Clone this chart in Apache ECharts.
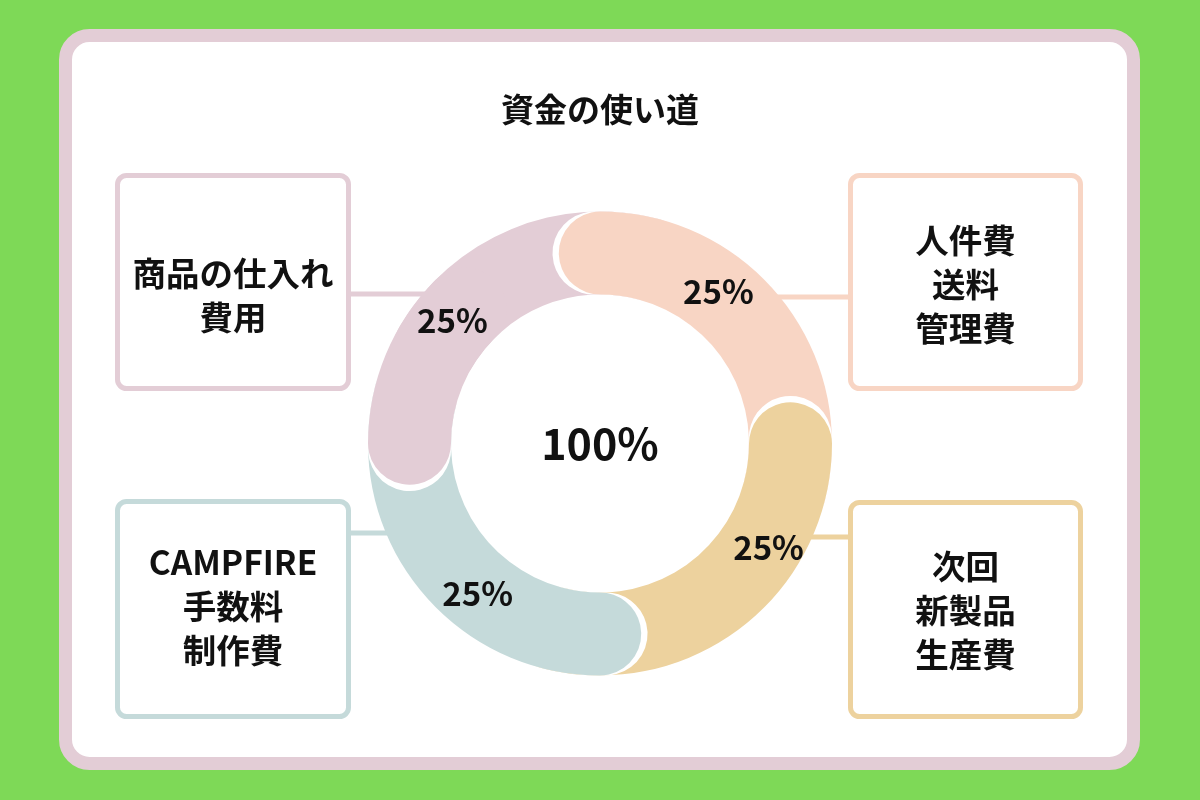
<!DOCTYPE html>
<html>
<head>
<meta charset="utf-8">
<script src="https://cdn.jsdelivr.net/npm/echarts@6/dist/echarts.min.js"></script>
<style>
html,body{margin:0;padding:0;background:#7ED957;}
#chart{width:1200px;height:800px;}
</style>
</head>
<body>
<div id="chart"></div>
<script>
// ---------- data ----------
const chartTitle = '資金の使い道';
const totalLabel = '100%';
// clockwise from the top
const categories = ['人件費\n送料\n管理費', '次回\n新製品\n生産費', 'CAMPFIRE\n手数料\n制作費', '商品の仕入れ\n費用'];
const shares = [25, 25, 25, 25];
const colors = ['#F8D5C4', '#EDD29E', '#C5DADA', '#E3CDD6'];

// ---------- layout / style ----------
const FONT = '"Noto Sans CJK JP", "Noto Sans", sans-serif';
const CENTER = [600, 443.5];
const RADII = [149, 232];
const START = 102.5;     // angle of the first segment's rounded head
const CAP = 42;          // corner radius -> round caps
const EXT = 40;          // degrees a segment tucks under the next one
const GAP = 1.9;         // white outline ahead of each head (degrees)
const HALO = 45;         // length of the white outline piece (degrees)
const HEAD = 70;         // last segment: head drawn on top
const OVER = 40;         // overlap of last segment's head and tail
const LABEL_START = 98;
const labelOffsets = [[2, 2], [14, -12], [-6, -5], [7, -7]];
// boxes [x0, y0, x1, y1] outer edges, text centre y, connector [y, xFromBox, xToRing]
const boxes = [
  {rect: [848, 173, 1083, 391], ty: 284, line: [297, 848, 760]},
  {rect: [848, 500, 1083, 719], ty: 610, line: [537, 848, 790]},
  {rect: [115, 499, 351, 719], ty: 606.5, line: [533, 351, 410]},
  {rect: [115, 173, 351, 391], ty: 295, line: [294, 351, 440]}
];

const total = shares.reduce((a, b) => a + b, 0);
const degOf = v => v / total * 360;
const valOf = d => d / 360 * total;

function arc(startAngle, spanDeg, color, z) {
  return {
    type: 'pie', z: z, center: CENTER, radius: RADII,
    startAngle: startAngle, clockwise: true, silent: true, animation: false,
    label: {show: false}, labelLine: {show: false}, emphasis: {disabled: true},
    itemStyle: {borderRadius: CAP, borderWidth: 0},
    data: [
      {value: valOf(spanDeg), itemStyle: {color: color}},
      {value: total - valOf(spanDeg), itemStyle: {color: 'rgba(0,0,0,0)'}}
    ]
  };
}

const n = shares.length;
let acc = 0;
const starts = shares.map(s => { const a = START - degOf(acc); acc += s; return a; });
const series = [];
let z = 10;
// tail of the last segment sits underneath everything
const lastSpan = degOf(shares[n - 1]);
series.push(arc(starts[n - 1] - (HEAD - OVER), lastSpan + EXT - (HEAD - OVER), colors[n - 1], z++));
for (let i = 0; i < n; i++) {
  const span = (i === n - 1) ? HEAD : degOf(shares[i]) + EXT;
  series.push(arc(starts[i] + GAP, HALO + GAP, '#ffffff', z++));
  series.push(arc(starts[i], span, colors[i], z++));
}
// percentage labels
series.push({
  type: 'pie', z: 40, center: CENTER, radius: RADII, startAngle: LABEL_START, clockwise: true,
  silent: true, animation: false, labelLine: {show: false}, emphasis: {disabled: true},
  itemStyle: {color: 'rgba(0,0,0,0)'},
  label: {show: true, position: 'inside', formatter: p => p.value + '%',
          fontFamily: FONT, fontSize: 33, fontWeight: 'bold', color: '#111'},
  data: shares.map((v, i) => ({value: v, name: categories[i], label: {offset: labelOffsets[i]}}))
});

const graphics = [];
// panel
graphics.push({type: 'rect', z: 0, shape: {x: 65.5, y: 35.5, width: 1068, height: 728, r: 24},
  style: {fill: '#ffffff', stroke: '#E3CDD6', lineWidth: 13}});
boxes.forEach((b, i) => {
  const [x0, y0, x1, y1] = b.rect;
  graphics.push({type: 'line', z: 1, shape: {x1: b.line[1], y1: b.line[0], x2: b.line[2], y2: b.line[0]},
    style: {stroke: colors[i], lineWidth: 5}});
  graphics.push({type: 'rect', z: 2, shape: {x: x0 + 2.5, y: y0 + 2.5, width: x1 - x0 - 5, height: y1 - y0 - 5, r: 9},
    style: {fill: '#ffffff', stroke: colors[i], lineWidth: 5}});
  graphics.push({type: 'text', z: 3, x: (x0 + x1) / 2, y: b.ty,
    style: {text: categories[i], fill: '#111', fontFamily: FONT, fontSize: 33.5, fontWeight: 'bold',
            lineHeight: 44, align: 'center', verticalAlign: 'middle'}});
});
graphics.push({type: 'text', z: 50, x: CENTER[0], y: CENTER[1],
  style: {text: totalLabel, fill: '#111', fontFamily: FONT, fontSize: 43, fontWeight: 'bold',
          align: 'center', verticalAlign: 'middle'}});

const chart = echarts.init(document.getElementById('chart'), null, {renderer: 'canvas'});
chart.setOption({
  backgroundColor: '#7ED957',
  animation: false,
  title: {text: chartTitle, left: 'center', top: 93, padding: 0,
          textStyle: {fontFamily: FONT, fontSize: 33, fontWeight: 'bold', color: '#111'}},
  graphic: {elements: graphics},
  series: series
});
</script>
</body>
</html>
